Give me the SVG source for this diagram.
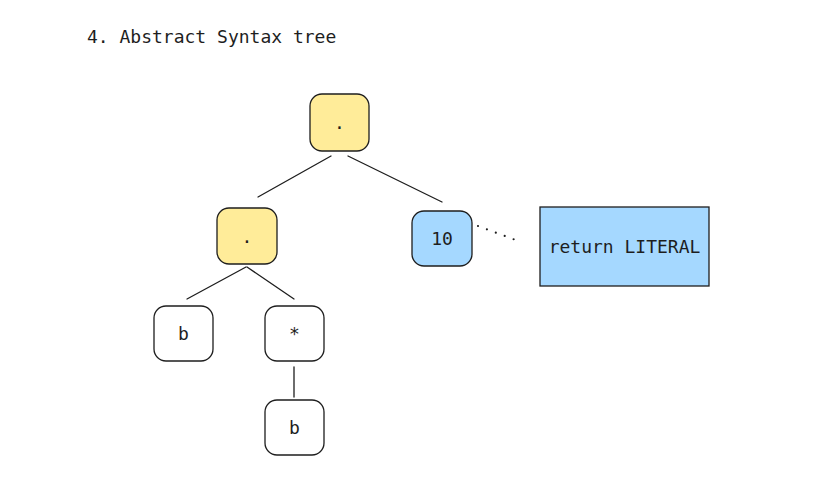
<svg xmlns="http://www.w3.org/2000/svg" width="826" height="482" viewBox="0 0 826 482">
<style>
.n{stroke:#1e1e1e;stroke-width:1.3;}
.w{fill:#ffffff;}
.y{fill:#ffec99;}
.b{fill:#a5d8ff;}
.t{font-family:"DejaVu Sans Mono","Liberation Mono",monospace;font-size:18px;fill:#1e1e1e;text-anchor:middle;dominant-baseline:central;}
.e{stroke:#1e1e1e;stroke-width:1.3;fill:none;stroke-linecap:round;}
.d{stroke-width:2.2;stroke-dasharray:0 9.5;}
</style>
<rect width="826" height="482" fill="#ffffff"/>
<text x="87" y="36" class="t" style="text-anchor:start">4. Abstract Syntax tree</text>
<g id="connectors">
<line class="e" x1="331" y1="156" x2="258" y2="197"/>
<line class="e" x1="348" y1="156" x2="442" y2="202"/>
<line class="e" x1="246" y1="267" x2="187" y2="299"/>
<line class="e" x1="247" y1="267" x2="294" y2="299"/>
<line class="e" x1="294" y1="367" x2="294" y2="397"/>
<line class="e d" x1="478" y1="226" x2="521" y2="242"/>
</g>
<g id="root"><rect class="n y" x="310" y="94" width="59" height="57" rx="12"/><text class="t" x="339.5" y="122.5">.</text></g>
<g id="dot"><rect class="n y" x="217" y="208" width="60" height="56" rx="12"/><text class="t" x="247" y="236">.</text></g>
<g id="ten"><rect class="n b" x="412" y="211" width="60" height="55" rx="12"/><text class="t" x="442" y="238.5">10</text></g>
<g id="literal"><rect class="n b" x="540" y="207" width="169" height="79"/><text class="t" x="624.5" y="246.5">return LITERAL</text></g>
<g id="b1"><rect class="n w" x="154" y="306" width="59" height="55" rx="12"/><text class="t" x="183.5" y="333.5">b</text></g>
<g id="star"><rect class="n w" x="265" y="306" width="59" height="55" rx="12"/><text class="t" x="294.5" y="333.5">*</text></g>
<g id="b2"><rect class="n w" x="265" y="400" width="59" height="55" rx="12"/><text class="t" x="294.5" y="427.5">b</text></g>
</svg>
